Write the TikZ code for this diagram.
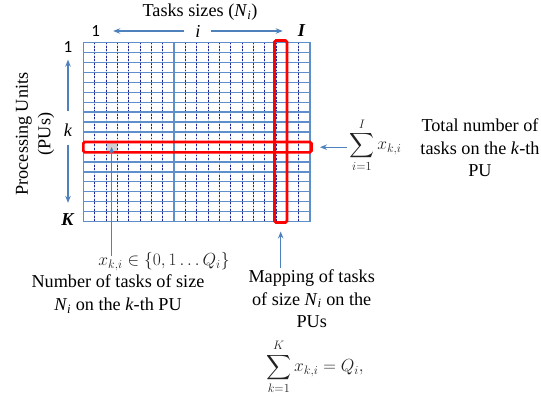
\RequirePackage{fix-cm}
\documentclass[tikz,border=0pt]{standalone}
\usepackage{amsmath}
\usepackage{fontspec}
\setmainfont{Liberation Serif}
\newfontfamily\calfont{Carlito}
\usepackage{tikz}
\usetikzlibrary{arrows.meta,positioning,calc}
\definecolor{gridblue}{HTML}{5F8FCB}
\definecolor{dashnavy}{HTML}{22229A}
\definecolor{arrblue}{HTML}{4F81BD}
\definecolor{markred}{HTML}{FF0000}
\definecolor{mathgray}{HTML}{222222}
\newcommand{\Ni}{\textit{N}\textsubscript{\textit{i}}}

\begin{document}
\begin{tikzpicture}[
  x=1pt, y=1pt,
  font=\fontsize{18.2}{22.5}\selectfont,
  lbl/.style={inner sep=2pt,align=center},
  numlbl/.style={inner sep=2pt,font=\fontsize{17}{20}\selectfont\calfont},
  mathlbl/.style={inner sep=0pt,text=mathgray,font=\fontsize{17.5}{21}\selectfont},
  gridline/.style={gridblue,line width=1.2pt},
  faintline/.style={gridblue!35,line width=0.6pt},
  dashline/.style={dashnavy,line width=0.55pt,dash pattern=on 1.8pt off 1.6pt},
  redbox/.style={draw=markred,line width=2.6pt,rounded corners=1.5pt},
  arr/.style={-{Stealth[length=7pt,width=5.5pt]},arrblue,line width=1.1pt}
]
\useasboundingbox (0,0) rectangle (541,-399);
% the assignment grid: 20 task sizes x 18 PUs
\def\gl{83.3} \def\gt{-42.3} \def\cw{11.33} \def\rh{9.97}
\fill[gray!35] (\gl+2*\cw,\gt-10*\rh) rectangle ++(\cw,-\rh);
\foreach \c in {1,...,19}
  \draw[faintline] (\gl+\c*\cw,\gt) -- ++(0,-18*\rh);
\foreach \c in {1,...,19}
  \draw[dashline] (\gl+\c*\cw,\gt) -- ++(0,-18*\rh);
\foreach \c in {0,8,20}
  \draw[gridline] (\gl+\c*\cw,\gt) -- ++(0,-18*\rh);
\foreach \r in {0,...,18}
  \draw[gridline] (\gl,\gt-\r*\rh) -- ++(20*\cw,0);
\draw[redbox] (274.5,-40.5) rectangle (287,-222.5);
\draw[redbox] (83.3,-142) rectangle (311.5,-152.3);
\coordinate (cell) at (\gl+2.5*\cw,\gt-10.5*\rh);
\coordinate (colfoot) at (280.7,-222.5);
\coordinate (rowend) at (311.5,-147.2);

% column and row indices
\node[lbl] (title) at (200,-12) {Tasks sizes (\Ni)};
\node[numlbl] (colfirst) at (95.7,-31) {1};
\node[lbl] (coli) at (198,-31) {\textit{i}};
\node[lbl] (colI) at (301.7,-31) {\textbf{\textit{I}}};
\draw[arr,shorten <=9pt,shorten >=11pt] (coli) -- (colfirst);
\draw[arr,shorten <=8pt,shorten >=13pt] (coli) -- (colI);
\node[numlbl] (rowfirst) at (68,-47) {1};
\node[lbl] (rowk) at (68,-130) {\textit{k}};
\node[lbl] (rowK) at (68,-220) {\textbf{\textit{K}}};
\draw[arr,shorten <=10pt,shorten >=5pt] (rowk) -- (rowfirst);
\draw[arr,shorten <=6pt,shorten >=9pt] (rowk) -- (rowK);
\node[lbl,rotate=90] (pus) at (35,-134) {Processing Units\\(PUs)};

% annotations
\node[mathlbl] (xlab) at (164,-261.7) {$x_{k,i}\in\{0,1\ldots Q_i\}$};
\node[lbl] (numlab) at (118,-294) {Number of tasks of size\\\Ni{} on the \textit{k}-th PU};
\draw[arr,shorten <=-4pt] (xlab.north -| cell) -- (cell);
\node[lbl] (maplab) at (311.7,-298.7) {Mapping of tasks\\of size \Ni{} on the\\PUs};
\node[mathlbl] (sumK) at (315,-367) {$\displaystyle\sum_{k=1}^{K} x_{k,i} = Q_i,$};
\draw[arr,shorten >=9pt] (maplab.north -| colfoot) -- (colfoot);
\node[mathlbl] (sumI) at (375.5,-145) {$\displaystyle\sum_{i=1}^{I} x_{k,i}$};
\node[lbl] (totlab) at (480,-148) {Total number of\\tasks on the \textit{k}-th\\PU};
\draw[arr,shorten <=2pt,shorten >=8.5pt] (sumI.west |- rowend) -- (rowend);
\end{tikzpicture}
\end{document}
